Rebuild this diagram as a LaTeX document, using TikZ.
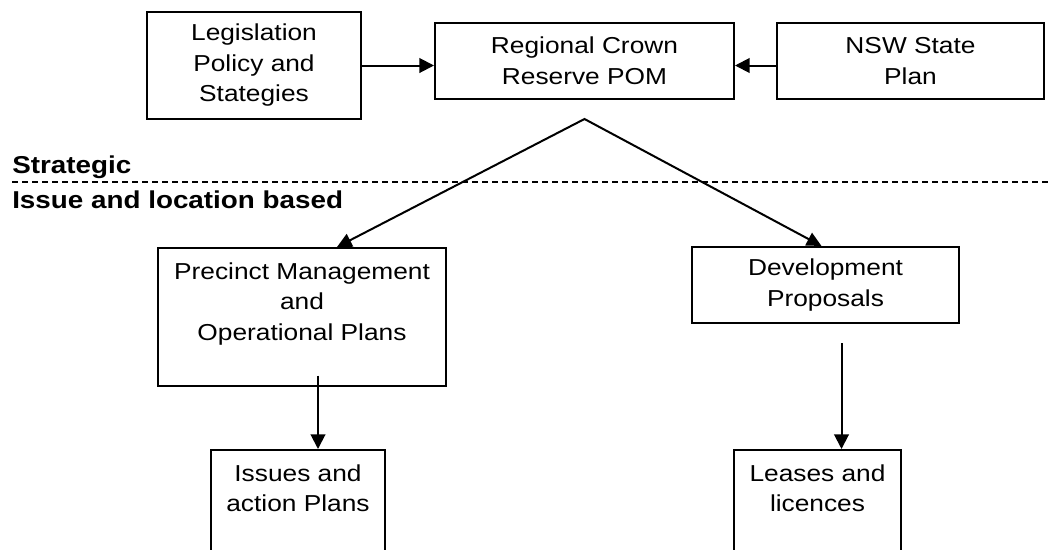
\documentclass[tikz,border=0pt]{standalone}
\usepackage{fontspec}
\setmainfont{Liberation Sans}[FakeStretch=1.14]
\usetikzlibrary{positioning,arrows.meta,calc}
\tikzset{
  blok/.style={draw,line width=1.5pt,align=center,inner sep=0pt,font=\fontsize{17.3}{22.9}\selectfont},
  blokT/.style={blok,anchor=north,inner ysep=11pt},
  sipka/.style={-{Triangle[length=11pt,width=11pt]},line width=1.5pt},
  sipky/.style={{Triangle[length=11pt,width=10.5pt]}-{Triangle[length=11pt,width=10.5pt]},line width=1.5pt,line join=miter},
  carka/.style={line width=1pt,dash pattern=on 4.5pt off 3pt},
  popis/.style={anchor=base west,inner sep=0pt,font=\fontsize{18.3}{20}\selectfont\bfseries},
}

\begin{document}
\begin{tikzpicture}[x=0.75pt,y=-0.75pt]
  \useasboundingbox (0,0) rectangle (1050,550);
  \clip (0,0) rectangle (1050,550);
  % strategic level
  \node[blok,minimum width=160.5pt,minimum height=80.25pt] (leg) at (254,65.5) {Legislation\\Policy and\\Stategies};
  \node[blok,minimum width=224.25pt,minimum height=57pt] (reg) at (584.5,61) {Regional Crown\\Reserve POM};
  \node[blok,minimum width=200.25pt,minimum height=57pt] (nsw) at (910.5,61) {NSW State\\Plan};
  \draw[sipka] (leg.east) -- (leg.east -| reg.west);
  \draw[sipka] (nsw.west |- leg.east) -- (reg.east |- leg.east);
  % divider
  \node[popis] (strat) at (12,173) {Strategic};
  \draw[carka] (12,182) -- (1050,182);
  \node[popis] (issue) at (12,208) {Issue and location based};
  % issue and location level
  \node[blokT,minimum width=216pt] (prec) at (302,247) {Precinct Management\\and\\Operational Plans\\~};
  \node[blok,minimum width=200.25pt,minimum height=57pt] (dev) at (825.5,285) {Development\\Proposals};
  \node[blokT,minimum width=130.5pt] (iss) at (298,449) {Issues and\\action Plans\\~\\~};
  \node[blokT,minimum width=125.25pt] (lea) at (817.5,449) {Leases and\\licences\\~\\~};
  \coordinate (vrchol) at ($(reg.south)+(0,19)$);
  \draw[sipky] ($(prec.north)+(35,0)$) -- (vrchol) -- ($(dev.north)+(-4,0)$);
  \coordinate (z1) at ($(prec.south)+(16,-11)$);
  \coordinate (z2) at ($(dev.south)+(16,19)$);
  \draw[sipka] (z1) -- (z1 |- iss.north);
  \draw[sipka] (z2) -- (z2 |- lea.north);
\end{tikzpicture}
\end{document}
